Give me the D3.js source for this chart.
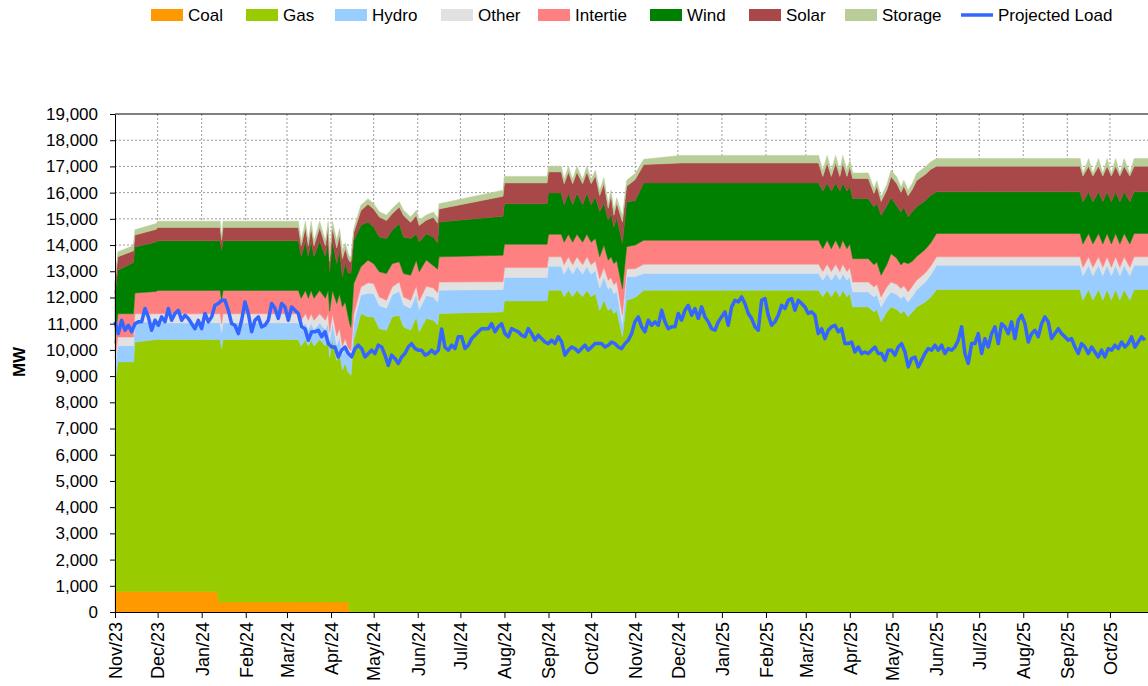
<!DOCTYPE html>
<html>
<head>
<meta charset="utf-8">
<script src="https://cdn.jsdelivr.net/npm/d3@7"></script>
<style>
body { margin: 0; background: #fff; }
svg { display: block; font-family: "Liberation Sans", Arial, sans-serif; }
</style>
</head>
<body>
<svg width="1148" height="686"></svg>
<script>
// Breakpoint dates for the stacked resources (MW)
const dates = [
  "2023-11-01","2023-11-03","2023-11-14","2023-11-15","2023-11-30","2023-12-01","2024-01-12","2024-01-13","2024-01-14","2024-01-15",
  "2024-01-16","2024-03-09","2024-03-11","2024-03-14","2024-03-16","2024-03-18","2024-03-20","2024-03-24","2024-03-28","2024-03-30",
  "2024-03-31","2024-04-02","2024-04-05","2024-04-07","2024-04-09","2024-04-11","2024-04-13","2024-04-14","2024-04-15","2024-04-17",
  "2024-04-22","2024-04-27","2024-05-01","2024-05-05","2024-05-10","2024-05-14","2024-05-19","2024-05-22","2024-05-27","2024-05-31",
  "2024-06-02","2024-06-07","2024-06-12","2024-06-15","2024-06-16","2024-07-31","2024-08-01","2024-08-31","2024-09-01","2024-09-10",
  "2024-09-12","2024-09-15","2024-09-18","2024-09-21","2024-09-25","2024-09-28","2024-10-01","2024-10-04","2024-10-07","2024-10-10",
  "2024-10-13","2024-10-15","2024-10-17","2024-10-19","2024-10-23","2024-10-26","2024-11-01","2024-11-07","2024-12-03","2025-03-10",
  "2025-03-13","2025-03-16","2025-03-19","2025-03-22","2025-03-25","2025-03-27","2025-03-30","2025-04-01","2025-04-03","2025-04-14",
  "2025-04-18","2025-04-20","2025-04-23","2025-04-27","2025-04-30","2025-05-04","2025-05-07","2025-05-09","2025-05-12","2025-05-15",
  "2025-05-18","2025-05-24","2025-05-28","2025-06-01","2025-09-10","2025-09-12","2025-09-16","2025-09-19","2025-09-23","2025-09-26",
  "2025-09-29","2025-10-02","2025-10-05","2025-10-08","2025-10-11","2025-10-15","2025-10-18","2025-11-01"
];

const coal = [
  780,780,780,780,780,780,780,380,380,380,
  380,380,380,380,380,380,380,380,380,380,
  380,380,380,380,380,380,380,0,0,0,
  0,0,0,0,0,0,0,0,0,0,
  0,0,0,0,0,0,0,0,0,0,
  0,0,0,0,0,0,0,0,0,0,
  0,0,0,0,0,0,0,0,0,0,
  0,0,0,0,0,0,0,0,0,0,
  0,0,0,0,0,0,0,0,0,0,
  0,0,0,0,0,0,0,0,0,0,
  0,0,0,0,0,0,0,0
];
const gas = [
  7970,8760,8760,9520,9620,9620,9620,10020,10020,9670,
  10020,10020,9770,10020,9770,10020,9770,10020,9770,10020,
  9320,10020,9220,9520,8840,9120,8770,9100,9030,10370,
  11390,11260,11260,10810,10750,11260,11320,10880,10750,11260,
  10690,11200,11130,10950,11390,11450,11870,11870,12280,12280,
  12030,12280,12030,12280,12030,12280,12030,12150,11510,11900,
  11510,11600,11390,11500,10500,11890,12000,12280,12280,12280,
  12030,12280,12030,12280,12030,12280,12030,12150,11640,11640,
  11450,11550,11070,11450,11640,11550,11390,11500,11260,11450,
  11640,11830,12020,12300,12300,11900,12300,11900,12300,11900,
  12300,11900,12300,11900,12300,11900,12300,12300
];
const hydro = [
  600,620,620,770,650,630,630,630,630,620,
  630,630,630,630,630,630,630,630,630,630,
  630,630,600,600,600,600,600,600,600,650,
  700,900,890,880,840,840,920,840,840,850,
  850,880,880,880,890,850,890,890,910,910,
  860,910,860,910,860,910,860,880,850,880,
  800,800,750,750,500,900,800,630,630,630,
  630,630,630,630,630,630,630,630,570,570,
  570,570,570,570,570,570,570,570,570,600,
  650,750,850,930,930,930,930,930,930,930,
  930,930,930,930,930,930,930,930
];
const other = [
  300,330,330,310,330,350,350,350,350,330,
  350,350,350,350,350,350,350,350,350,350,
  350,350,330,330,330,330,330,330,330,330,
  310,400,380,330,300,300,350,300,300,330,
  330,350,350,350,310,300,380,380,360,360,
  360,360,360,360,360,360,360,360,350,360,
  350,350,350,350,330,300,300,360,360,360,
  330,360,330,360,330,360,330,360,380,380,
  380,380,380,380,380,380,380,380,380,380,
  370,350,330,320,320,320,320,320,320,320,
  320,320,320,320,320,320,320,320
];
const intertie = [
  600,890,890,790,850,890,890,890,890,900,
  890,890,840,890,840,890,840,890,840,890,
  800,890,1240,1300,1490,1400,1200,1000,900,1180,
  770,860,760,960,1020,890,770,890,960,980,
  1110,1000,850,900,960,1010,890,890,860,860,
  860,860,860,860,860,860,860,860,840,860,
  760,800,800,800,1000,850,900,910,910,910,
  870,910,870,910,870,910,870,900,890,890,
  850,850,830,850,1080,1000,900,900,1080,950,
  900,900,890,890,890,890,890,890,890,890,
  890,890,890,890,890,890,890,890
];
const wind = [
  1900,1660,1950,1760,1890,1890,1890,1890,1890,1900,
  1890,1890,1590,1890,1590,1890,1590,1890,1590,1890,
  1500,1890,1520,1700,1140,1500,1670,1900,2050,1650,
  1590,1460,1400,1330,1340,1280,1460,1400,1400,1000,
  1140,1000,1100,1000,1330,1490,1550,1550,1580,1580,
  1430,1580,1430,1580,1430,1580,1430,1590,1720,1600,
  1530,1650,1400,1650,1750,1700,1700,2190,2190,2190,
  2200,2190,2200,2190,2200,2190,2200,2200,2300,2300,
  2200,2250,2290,2250,2140,2000,2020,2100,1790,1900,
  1900,1860,1810,1590,1590,1610,1590,1610,1590,1610,
  1590,1610,1590,1610,1590,1610,1590,1590
];
const solar = [
  350,510,450,450,480,510,510,510,510,380,
  510,510,410,510,410,510,410,510,410,510,
  400,510,600,550,700,550,550,450,450,300,
  560,680,690,760,690,620,630,820,620,710,
  630,520,750,750,500,760,790,790,800,800,
  800,800,800,800,800,800,800,800,620,750,
  450,700,450,550,800,600,800,700,760,760,
  560,760,560,760,560,760,560,750,760,760,
  520,650,520,600,800,850,750,800,800,850,
  1000,1000,990,980,980,980,980,980,980,980,
  980,980,980,980,980,980,980,980
];
const storage = [
  150,190,200,200,220,240,240,240,240,130,
  240,240,190,240,190,240,190,240,190,240,
  150,240,290,240,320,200,200,190,190,150,
  200,210,200,200,200,200,200,200,200,200,
  200,200,200,200,200,230,250,250,220,220,
  170,220,170,220,170,220,170,215,200,220,
  180,200,190,200,230,230,230,200,290,290,
  230,290,230,290,230,290,230,260,210,210,
  190,200,180,200,240,250,200,220,210,230,
  270,290,290,290,290,100,290,100,290,100,
  290,100,290,100,290,100,290,290
];

// Projected load, sampled every 2.345 days from 1 Nov 2023 (MW)
const loadStart = "2023-11-01";
const loadStepDays = 2.345;
const load = [
  11070,10620,11130,10750,10940,10690,11000,11070,11070,11580,
  11260,10750,11130,10940,11260,11070,11580,11130,11390,11510,
  11130,11320,11200,11000,10810,11130,10810,11390,11070,11260,
  11700,11770,11890,11890,11510,11000,10940,10620,11130,11830,
  11390,10690,11130,11260,10880,10940,11130,11770,11580,11200,
  11770,11640,11130,11640,11510,11390,10880,10810,10370,10690,
  10690,10750,10500,10690,10240,10110,10110,9730,9990,10110,
  9860,9730,10050,10180,
  10050,9730,9860,9990,9860,10180,10110,9800,9410,9800,
  9670,9480,9730,9860,10110,10240,10050,9990,9990,9800,
  9860,9990,9860,9990,10800,10100,9990,10180,10050,10500,
  10500,10050,10180,10430,10560,10690,10810,10810,10810,11000,
  10690,10880,11000,10620,10500,10810,10750,10690,10560,10500,
  10810,10620,10370,10560,10430,10300,10240,10370,10240,10500,
  10300,9800,9990,10110,10050,9920,10050,10180,9990,10110,
  10240,10240,10240,10110,10180,10300,10240,
  10110,10050,10240,10370,10620,11070,11260,10880,10690,11130,
  10940,11070,10940,11510,11070,10810,10880,10880,11390,11130,
  11510,11700,11320,11580,11200,11640,11260,11070,10810,10750,
  11070,11260,11450,10940,11640,11890,11830,12020,11770,11390,
  11200,10880,10750,11890,11960,11320,10940,11070,11320,11700,
  11580,11890,11960,11510,11890,11770,11640,11390,11450,11320,
  10620,10810,10430,10750,10880,10940,10690,10810,10240,10240,
  10300,9920,10110,9860,9920,9860,9990,10110,9860,
  9860,9600,9990,9990,9800,10110,10240,9920,9350,9670,
  9730,9350,9600,9860,10050,9990,10180,9990,10180,9860,
  10050,9990,10110,10370,10880,9860,9480,10240,10240,10620,
  9860,10430,10110,10620,10880,10240,11000,10880,10620,11070,
  10430,11130,11320,11000,10300,10620,10750,10500,11000,11260,
  11070,10430,10620,10810,10620,10500,10370,10430,10110,9860,
  10240,10110,9860,10110,9920,9730,9990,9730,10050,9990,
  10180,10050,10300,10110,10240,10500,10110,10300,10500,10370
];

const keys = ["Coal", "Gas", "Hydro", "Other", "Intertie", "Wind", "Solar", "Storage"];
const colors = ["#FF9900", "#99CC00", "#99CCFF", "#E1E1E1", "#FF8080", "#008000", "#A94848", "#B9CD98"];
const loadColor = "#3366FF";

const width = 1148, height = 686;
const svg = d3.select("svg");
const parse = d3.timeParse("%Y-%m-%d");
const startDate = parse("2023-11-01"), endDate = parse("2025-11-01");

const x = d3.scaleTime().domain([startDate, endDate]).range([115, 1154]);
const y = d3.scaleLinear().domain([0, 19000]).range([612, 114]);

// Build table for the stack
const series = [coal, gas, hydro, other, intertie, wind, solar, storage];
const table = dates.map((d, i) => {
    const row = { date: parse(d) };
    keys.forEach((k, j) => row[k] = series[j][i]);
    return row;
});

const loadRows = load.map((v, i) => ({
    date: new Date(parse(loadStart).getTime() + i * loadStepDays * 864e5),
    value: v
}));

drawGrid();
drawAreas();
drawLoad();
drawAxes();
drawLegend();

// Dotted gridlines behind the areas
function drawGrid() {
    const grid = svg.append("g");
    grid.selectAll(".hgrid")
        .data(d3.range(1000, 19000, 1000))
        .join("line")
        .attr("x1", 115).attr("x2", width)
        .attr("y1", d => y(d)).attr("y2", d => y(d))
        .attr("stroke", "#999").attr("stroke-dasharray", "2,2");

    grid.selectAll(".vgrid")
        .data(d3.timeMonth.range(d3.timeMonth.offset(startDate, 1), endDate))
        .join("line")
        .attr("x1", d => x(d)).attr("x2", d => x(d))
        .attr("y1", y(19000)).attr("y2", y(0))
        .attr("stroke", "#999").attr("stroke-dasharray", "2,2");
}

// Stacked resource areas
function drawAreas() {
    const stacked = d3.stack().keys(keys)(table);
    const area = d3.area()
        .x(d => x(d.data.date))
        .y0(d => y(d[0]))
        .y1(d => y(d[1]));

    svg.append("g").selectAll("path")
        .data(stacked)
        .join("path")
        .attr("d", area)
        .attr("fill", (d, i) => colors[i])
        .attr("stroke", (d, i) => colors[i])
        .attr("stroke-width", 0.5);
}

// Projected load line
function drawLoad() {
    const line = d3.line()
        .x(d => x(d.date))
        .y(d => y(d.value));

    svg.append("path")
        .datum(loadRows)
        .attr("d", line)
        .attr("fill", "none")
        .attr("stroke", loadColor)
        .attr("stroke-width", 3.5)
        .attr("stroke-linejoin", "round");
}

function drawAxes() {
    // plot top border
    svg.append("line")
        .attr("x1", 115).attr("x2", width)
        .attr("y1", y(19000)).attr("y2", y(19000))
        .attr("stroke", "#000");

    const yAxis = svg.append("g")
        .attr("transform", "translate(115,0)")
        .call(d3.axisLeft(y)
            .tickValues(d3.range(0, 19001, 1000))
            .tickFormat(d3.format(","))
            .tickSize(5).tickSizeOuter(0).tickPadding(12));
    yAxis.attr("font-family", null).attr("font-size", null);
    yAxis.selectAll("text").style("font-size", "17px").attr("fill", "#000");
    yAxis.selectAll("line, path").attr("stroke", "#000");

    const xAxis = svg.append("g")
        .attr("transform", `translate(0,${y(0)})`)
        .call(d3.axisBottom(x)
            .tickValues(d3.timeMonth.range(startDate, endDate))
            .tickFormat(d3.timeFormat("%b/%y"))
            .tickSize(6).tickSizeOuter(0));
    xAxis.attr("font-family", null).attr("font-size", null);
    xAxis.selectAll("line, path").attr("stroke", "#000");
    xAxis.selectAll("text")
        .attr("transform", "rotate(-90)")
        .attr("x", -10).attr("y", 0).attr("dy", "0.35em")
        .attr("text-anchor", "end")
        .attr("fill", "#000")
        .style("font-size", "18px");

    svg.append("text")
        .attr("transform", "translate(19,362) rotate(-90)")
        .attr("text-anchor", "middle")
        .attr("dy", "0.35em")
        .style("font-size", "17px").style("font-weight", "bold")
        .text("MW");
}

function drawLegend() {
    const legendX = [151, 246, 335, 441, 538, 650, 749, 845];
    const legend = svg.append("g");
    keys.forEach((k, i) => {
        legend.append("rect")
            .attr("x", legendX[i]).attr("y", 9)
            .attr("width", 32).attr("height", 12)
            .attr("fill", colors[i]);
        legend.append("text")
            .attr("x", legendX[i] + 37).attr("y", 21)
            .style("font-size", "17px")
            .text(k);
    });
    legend.append("line")
        .attr("x1", 961).attr("x2", 993)
        .attr("y1", 15).attr("y2", 15)
        .attr("stroke", loadColor).attr("stroke-width", 3.5);
    legend.append("text")
        .attr("x", 998).attr("y", 21)
        .style("font-size", "17px")
        .text("Projected Load");
}
</script>
</body>
</html>
